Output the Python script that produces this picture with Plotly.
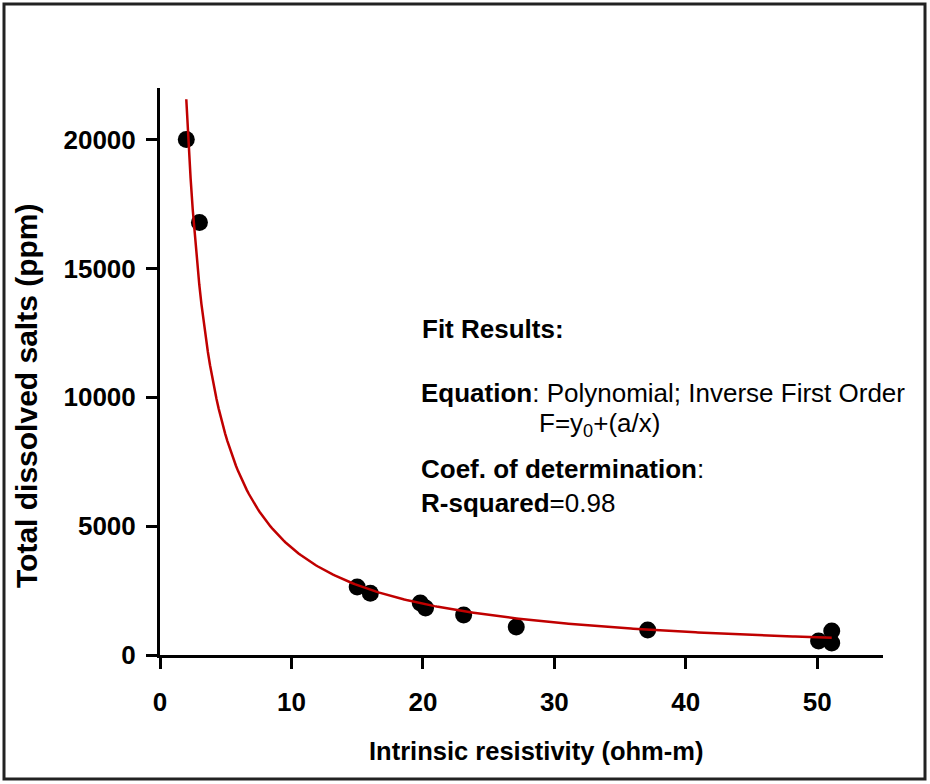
import numpy as np
import plotly.graph_objects as go

# Data
resistivity = [2, 3, 15, 16, 19.8, 20.2, 23.1, 27.1, 37.1, 50.1, 51.1, 51.1]
tds_ppm = [20000, 16780, 2640, 2400, 2020, 1825, 1550, 1090, 970, 545, 930, 465]

x_ticks = [0, 10, 20, 30, 40, 50]
y_ticks = [0, 5000, 10000, 15000, 20000]

x_title = "Intrinsic resistivity (ohm-m)"
y_title = "Total dissolved salts (ppm)"

# Inverse first order fit F = y0 + a/x (least squares from the data)
xa = np.array(resistivity, dtype=float)
ya = np.array(tds_ppm, dtype=float)
a_coef, y0_coef = np.polyfit(1.0 / xa, ya, 1)
x_fit = np.linspace(xa.min(), xa.max(), 300)
y_fit = y0_coef + a_coef / x_fit

FONT = "Liberation Sans, Arial, sans-serif"

fig = go.Figure()
fig.add_trace(go.Scatter(
    x=resistivity, y=tds_ppm, mode="markers",
    marker=dict(color="black", size=17, line=dict(width=0)),
    showlegend=False, cliponaxis=False,
))
fig.add_trace(go.Scatter(
    x=x_fit, y=y_fit, mode="lines",
    line=dict(color="#c00000", width=2.5),
    showlegend=False,
))

W, H = 930, 784
ml, mr, mt, mb = 160, 47, 88, 129
pw, ph = W - ml - mr, H - mt - mb

def px(xp):
    return (xp - ml) / pw

def py(yp):
    return (H - mb - yp) / ph

fig.add_shape(type="rect", xref="paper", yref="paper",
              x0=px(4), x1=px(925), y0=py(779), y1=py(4),
              line=dict(color="#222222", width=3), layer="below")

ann_font = dict(family=FONT, size=26, color="black")
texts = [
    ("<b>Fit Results:</b>", 420, 329),
    ("<b>Equation</b>: Polynomial; Inverse First Order", 419, 393),
    ("F=y<sub>0</sub>+(a/x)", 537, 424),
    ("<b>Coef. of determination</b>:", 419, 469),
    ("<b>R-squared</b>=0.98", 419, 503),
]
for t, xp, yp in texts:
    fig.add_annotation(text=t, xref="paper", yref="paper", x=px(xp), y=py(yp),
                       xanchor="left", yanchor="middle", showarrow=False,
                       font=ann_font)

# axis titles
fig.add_annotation(text="<b>" + x_title + "</b>", xref="paper", yref="paper",
                   x=px(536), y=py(751), xanchor="center", yanchor="middle",
                   showarrow=False, font=dict(family=FONT, size=25.5, color="black"))
fig.add_annotation(text="<b>" + y_title + "</b>", xref="paper", yref="paper",
                   x=px(26), y=py(396), xanchor="center", yanchor="middle",
                   textangle=-90, showarrow=False,
                   font=dict(family=FONT, size=30, color="black"))

fig.update_layout(
    width=W, height=H,
    margin=dict(l=ml, r=mr, t=mt, b=mb),
    paper_bgcolor="white", plot_bgcolor="white",
    font=dict(family=FONT, color="black"),
)
fig.update_xaxes(
    range=[0, 55], tickvals=x_ticks, ticktext=[str(v) for v in x_ticks],
    showline=True, linecolor="black", linewidth=3,
    ticks="outside", ticklen=11, tickwidth=2.5, tickcolor="black",
    ticklabelstandoff=11,
    showgrid=False, zeroline=False,
    tickfont=dict(family=FONT, size=26, color="black", weight="bold"),
)
fig.update_yaxes(
    range=[0, 22000], tickvals=y_ticks, ticktext=[str(v) for v in y_ticks],
    showline=True, linecolor="black", linewidth=3,
    ticks="outside", ticklen=11, tickwidth=2.5, tickcolor="black",
    ticklabelstandoff=5,
    showgrid=False, zeroline=False,
    tickfont=dict(family=FONT, size=26, color="black", weight="bold"),
)

fig.write_html("out.html", config={"displayModeBar": False},
               post_script="document.body.style.margin='0';document.body.style.padding='0';")
